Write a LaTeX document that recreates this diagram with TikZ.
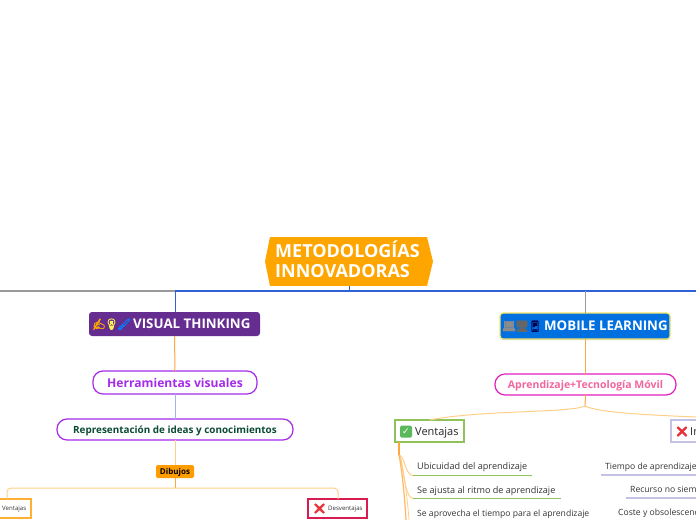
\documentclass[tikz,border=0pt]{standalone}
\usepackage{fontspec}
\usetikzlibrary{shadows}
\setmainfont{Open Sans}
\newfontfamily\emo[FakeBold=2.5]{Noto Emoji}
\newfontfamily\djv{DejaVu Sans}
\definecolor{rootor}{HTML}{FFA500}
\definecolor{vtpur}{HTML}{662D91}
\definecolor{mlblue}{HTML}{0070E0}
\definecolor{mlyel}{HTML}{F5E66A}
\definecolor{lineblue}{HTML}{2F62D8}
\definecolor{linegray}{HTML}{9A9A9A}
\definecolor{lineor}{HTML}{FFA63C}
\definecolor{paleor}{HTML}{FFCF8A}
\definecolor{palebl}{HTML}{9DB3F5}
\definecolor{purb}{HTML}{A52BEA}
\definecolor{mag}{HTML}{E21FC0}
\definecolor{pinkt}{HTML}{F0679E}
\definecolor{dkgreen}{HTML}{0B4A35}
\definecolor{dibor}{HTML}{FF9C00}
\definecolor{crim}{HTML}{D81B50}
\definecolor{grn}{HTML}{8FC35A}
\definecolor{lav}{HTML}{C3C1E6}
\definecolor{xred}{HTML}{E8323C}
\definecolor{chk}{HTML}{5CB85C}
\tikzset{
  box/.style={inner sep=0pt,outer sep=0pt,align=center},
  pill/.style={box,rounded corners=10pt,draw,line width=1.2pt,fill=white,text depth=0pt},
  itemtxt/.style={inner sep=0pt,anchor=base west,text=black!80,font=\fontsize{8.6}{10}\selectfont},
  itembig/.style={itemtxt,font=\fontsize{9.1}{10}\selectfont},
  conn/.style={line width=1pt},
  branch/.style={line width=1pt,color=paleor},
  ul/.style={line width=1.2pt},
  roottxt/.style={inner sep=0pt,anchor=base west,text=white,font=\bfseries\fontsize{18}{20}\selectfont},
  headtxt/.style={inner sep=0pt,anchor=base west,text=white,font=\bfseries\fontsize{13.3}{15}\selectfont},
  tinytxt/.style={inner sep=0pt,anchor=base west,text=black!80,font=\fontsize{6.1}{7}\selectfont},
  midtxt/.style={inner sep=0pt,anchor=base west,text=black!85,font=\fontsize{11}{12}\selectfont},
  emoji/.style={inner sep=0pt,anchor=base,font=\emo\fontsize{11}{12}\selectfont},
}
\begin{document}
\begin{tikzpicture}[x=1pt,y=-1pt]
\useasboundingbox (0,0) rectangle (696,520);
\clip (0,0) rectangle (696,520);
\node[box,fill=rootor,minimum width=157pt,minimum height=49pt] (root) at (348.5,261.5) {};
\fill[rootor] (root.north west) -- (265,261.5) -- (root.south west) -- cycle;
\fill[rootor] (root.north east) -- (433,261.5) -- (root.south east) -- cycle;
\node[roottxt] (t1) at (275,257.5) {METODOLOGÍAS};
\node[roottxt] (t2) at (275,277.5) {INNOVADORAS};
\coordinate (hubL) at (175,291);
\coordinate (hubM) at (349,291);
\coordinate (hubR) at (585,291);
\coordinate (edgeL) at (0,291);
\coordinate (edgeR) at (696,291);
\node[box,fill=vtpur,rounded corners=3pt,minimum width=171pt,minimum height=24pt] (vt) at (174.5,324) {};
\node[headtxt] (vtt) at (133,328.5) {VISUAL THINKING};
\node[emoji,text=orange!70!yellow] at (99,328) {✍};
\node[emoji,text=yellow!70!white] at (111.5,328) {💡};
\node[emoji,text=blue!50!cyan] at (124,328) {🖌};
\node[box,draw=mlyel,line width=1.2pt,fill=mlblue,rounded corners=3pt,minimum width=170pt,minimum height=26pt,drop shadow={shadow xshift=0pt,shadow yshift=-1.2pt,opacity=.3}] (ml) at (585,326) {};
\node[headtxt] (mlt) at (544,330.5) {MOBILE LEARNING};
\node[emoji,text=black!45] at (509,330) {💻};
\node[emoji,text=black!60] at (522,330) {🖥};
\node[emoji,text=black!70!blue] at (535,330) {📱};
\node[pill,draw=purb,text=purb,minimum width=164pt,minimum height=23pt,font=\bfseries\fontsize{12.1}{13}\selectfont] (herr) at (175,382.5) {Herramientas visuales};
\node[pill,draw=purb,text=dkgreen,minimum width=236pt,minimum height=21pt,font=\bfseries\fontsize{9.9}{11}\selectfont] (rep) at (175,429.5) {Representación de ideas y conocimientos};
\node[box,fill=dibor,rounded corners=2pt,minimum width=38pt,minimum height=13pt,font=\bfseries\fontsize{8}{8}\selectfont,text depth=0pt] (dib) at (175,471.5) {Dibujos};
\node[box,draw=dibor!80,line width=1.2pt,fill=white,minimum width=40pt,minimum height=19pt] (venL) at (11,508.5) {};
\node[tinytxt] (venLt) at (2,510.5) {Ventajas};
\node[box,draw=crim,line width=1.2pt,fill=white,minimum width=59pt,minimum height=19pt] (desv) at (337.5,508.5) {};
\node[tinytxt] (desvt) at (328,510.5) {Desventajas};
\node[inner sep=0pt,text=xred,font=\emo\fontsize{10}{10}\selectfont] at (319.5,508.5) {❌};
\node[pill,draw=mag,text=pinkt,minimum width=181pt,minimum height=21pt,font=\bfseries\fontsize{10.5}{11}\selectfont] (apr) at (585.5,384.5) {Aprendizaje+Tecnología Móvil};
\node[box,draw=grn,line width=1.2pt,fill=white,minimum width=69pt,minimum height=22pt] (ven) at (429.5,431) {};
\node[midtxt] (vent) at (415,435.5) {Ventajas};
\node[box,fill=chk,rounded corners=1.5pt,minimum width=12pt,minimum height=12pt,text=white,font=\djv\fontsize{9}{9}\selectfont] at (406,431.5) {✓};
\node[box,draw=lav,line width=1.2pt,fill=white,minimum width=60pt,minimum height=22pt,anchor=west] (inc) at (671,431) {};
\node[midtxt] (inct) at (690,435.5) {Inconvenientes};
\node[inner sep=0pt,text=xred,font=\emo\fontsize{10}{10}\selectfont] at (682,431.5) {❌};
\node[itembig] (a1) at (417,469) {Ubicuidad del aprendizaje};
\node[itembig] (a2) at (417,493) {Se ajusta al ritmo de aprendizaje};
\node[itemtxt] (a3) at (417,516) {Se aprovecha el tiempo para el aprendizaje};
\node[itemtxt] (b1) at (605,469) {Tiempo de aprendizaje};
\node[itemtxt] (b2) at (630,492) {Recurso no siempre disponible};
\node[itemtxt] (b3) at (618,515) {Coste y obsolescencia};
\coordinate (ua1) at (413,475.5);
\coordinate (ua1e) at (532,475.5);
\coordinate (ua2) at (413,498.5);
\coordinate (ua2e) at (561,498.5);
\coordinate (ub1) at (601,475);
\coordinate (ub1e) at (696,475);
\coordinate (ub2) at (626,498);
\coordinate (ub2e) at (696,498);
\coordinate (jn) at (585,406);
\coordinate (bus) at (175,488);
\coordinate (busL) at (7,488);
\coordinate (busR) at (338,488);
\draw[conn,linegray,line width=1.5pt] (edgeL) -- (hubL);
\draw[conn,lineblue,line width=1.2pt] (hubL) -- (hubM) -- (edgeR);
\draw[conn,lineblue] (hubM) -- (root.south -| hubM);
\draw[conn,lineblue] (hubL) -- (vt.north -| hubL);
\draw[conn,linegray] (hubR) -- (ml.north -| hubR);
\draw[conn,lineor] (vt.south) -- (herr.north);
\draw[conn,palebl] (herr.south) -- (rep.north);
\draw[conn,paleor] (rep.south) -- (dib.north);
\draw[conn,lineor] (dib.south) -- (bus);
\draw[branch,rounded corners=4pt] (venL.north -| busL) -- (busL) -- (busR) -- (desv.north -| busR);
\draw[conn,lineor] (ml.south -| apr) -- (apr.north);
\draw[conn,lineor] (apr.south) -- (jn);
\draw[branch] (jn) .. controls (570,413) and (480,410) .. (ven.north);
\draw[branch] (jn) .. controls (600,413) and (650,415) .. (696,417);
\draw[lineor,line width=1.6pt] (399,442) -- (399,455);
\draw[branch] (399,455) .. controls (405,456) and (405,475) .. (ua1);
\draw[branch] (399,455) .. controls (403,460) and (404,498) .. (ua2);
\draw[lineor,line width=1.2pt,opacity=.8] (399,455) .. controls (402,470) and (405,500) .. (406,520);
\draw[paleor,line width=.8pt] (400,455) .. controls (404,470) and (408,505) .. (409,520);
\draw[ul,grn] (ua1) -- (ua1e);
\draw[ul,grn] (ua2) -- (ua2e);
\draw[ul,lav] (ub1) -- (ub1e);
\draw[ul,lav] (ub2) -- (ub2e);
\end{tikzpicture}
\end{document}
